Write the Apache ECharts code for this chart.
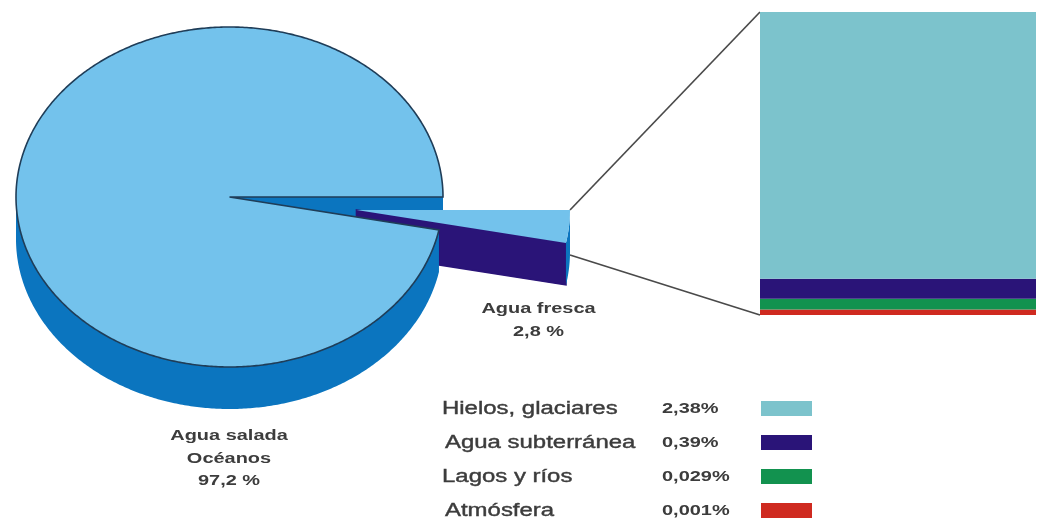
<!DOCTYPE html>
<html>
<head>
<meta charset="utf-8">
<style>html,body{margin:0;padding:0;background:#fff}#c{width:1040px;height:521px}</style>
<script src="https://cdn.jsdelivr.net/npm/echarts@6/dist/echarts.min.js"></script>
</head>
<body>
<div id="c"></div>
<script>
// Pie shares: as drawn in the picture (the printed labels are 97,2 % and 2,8 %)
const pieNames = ['Agua fresca', 'Agua salada'];
const pieDrawn = [3.1, 96.9];
const pieLabels = [['Agua fresca', '2,8 %'], ['Agua salada', 'Océanos', '97,2 %']];

// Stacked column: heights
const barNames = ['Hielos, glaciares', 'Agua subterránea', 'Lagos y ríos', 'Atmósfera'];
const barDrawn = [88, 6.6, 3.6, 1.8];
const barLabels = ['2,38%', '0,39%', '0,029%', '0,001%'];
const barColors = ['#7cc3cc', '#2a1478', '#12924f', '#cf2a20'];

const LIGHT = '#73c2ec', MID = '#0b75bf', NAVY = '#2a1478', EDGE = '#1f3d58';
const C = {x: 229.5, y: 197, rx: 213.5, ry: 170, depth: 42};
const OFF = {x: 127, y: 13};
const TEXT = '#3c3c3c';
const FONT = '"Liberation Sans", Arial, sans-serif';
const WIDEN = 1.33;

function pt(t, ox, oy, d) {
  return [C.x + ox + C.rx * Math.cos(t), C.y + oy + C.ry * Math.sin(t) + (d || 0)];
}
function arc(a, b, ox, oy, d) {
  const n = Math.max(2, Math.ceil(Math.abs(b - a) / 0.01)), out = [];
  for (let i = 0; i <= n; i++) out.push(pt(a + (b - a) * i / n, ox, oy, d));
  return out;
}
function renderPie(params, api) {
  const t1 = pieDrawn[0] / 100 * 2 * Math.PI;
  const poly = (points, fill, stroke) => ({
    type: 'polygon', shape: {points},
    style: {fill, stroke: stroke || null, lineWidth: stroke ? 1.6 : 0}
  });
  if (params.dataIndex === 0) {
    const share = api.value(1) / 100 * 2 * Math.PI;
    const a = pt(0, 0, 0), b = pt(0, 0, 0, C.depth);
    const apex = [C.x + OFF.x, C.y + OFF.y];
    const end = pt(share, OFF.x, OFF.y);
    return {type: 'group', children: [
      // far wall of the gap left in the main pie
      poly([[C.x, C.y], a, b, [C.x, C.y + C.depth]], MID),
      // cut wall of the pulled-out slice
      poly([apex, end, pt(share, OFF.x, OFF.y, C.depth), [apex[0], apex[1] + C.depth]], NAVY, NAVY),
      // outer rim of the slice
      poly(arc(0, share, OFF.x, OFF.y).concat(arc(share, 0, OFF.x, OFF.y, C.depth)), MID),
      // top face of the slice
      poly([apex].concat(arc(0, share, OFF.x, OFF.y)), LIGHT)
    ]};
  }
  const start = t1, stop = start + api.value(1) / 100 * 2 * Math.PI;
  return {type: 'group', children: [
    poly(arc(start, Math.PI, 0, 0).concat(arc(Math.PI, start, 0, 0, C.depth)), MID),
    poly([[C.x, C.y]].concat(arc(start, stop, 0, 0)), LIGHT, EDGE)
  ]};
}

const chart = echarts.init(document.getElementById('c'), null, {renderer: 'canvas'});

const graphics = [];
const addText = (x, y, text, align, size, weight) => graphics.push({
  type: 'text', x, y, scaleX: WIDEN,
  style: {text, x: 0, y: 0, align, verticalAlign: 'middle', fill: TEXT,
    stroke: weight === 'normal' ? TEXT : null, lineWidth: weight === 'normal' ? 0.4 : 0,
    font: `${weight} ${size}px ${FONT}`}
});
// connector lines from the slice to the column
[[[570, 210], [760, 12]], [[570, 255], [760, 315]]].forEach(l => graphics.push({
  type: 'line', shape: {x1: l[0][0], y1: l[0][1], x2: l[1][0], y2: l[1][1]},
  style: {stroke: '#4a4a4a', lineWidth: 1.7}
}));
// slice captions
pieLabels[0].forEach((s, i) => addText(538.5, 309 + i * 23, s, 'center', 15, 'bold'));
pieLabels[1].forEach((s, i) => addText(229, 436 + i * 22.5, s, 'center', 15, 'bold'));
// legend rows
const rowX = [442, 445, 442, 445];
barNames.forEach((name, i) => {
  const y = 409 + i * 34;
  addText(rowX[i], y, name, 'left', 18, 'normal');
  addText(662, y, barLabels[i], 'left', 15, 'bold');
  graphics.push({type: 'rect', shape: {x: 761, y: y - 8, width: 51, height: 15}, style: {fill: barColors[i]}});
});

chart.setOption({
  animation: false,
  backgroundColor: '#fff',
  grid: {left: 760, top: 12, width: 276, height: 303},
  xAxis: {type: 'category', data: ['Agua fresca'], show: false},
  yAxis: {type: 'value', min: 0, max: 100, show: false},
  tooltip: {show: false},
  graphic: graphics,
  series: [
    {type: 'custom', coordinateSystem: 'none', renderItem: renderPie, silent: true,
     data: pieNames.map((n, i) => [n, pieDrawn[i]]), z: 2},
  ].concat(barNames.map((n, i) => i).reverse().map(i => ({
    type: 'bar', name: barNames[i], stack: 'agua', barWidth: '100%',
    data: [barDrawn[i]], itemStyle: {color: barColors[i]}, silent: true
  })))
});
</script>
</body>
</html>
